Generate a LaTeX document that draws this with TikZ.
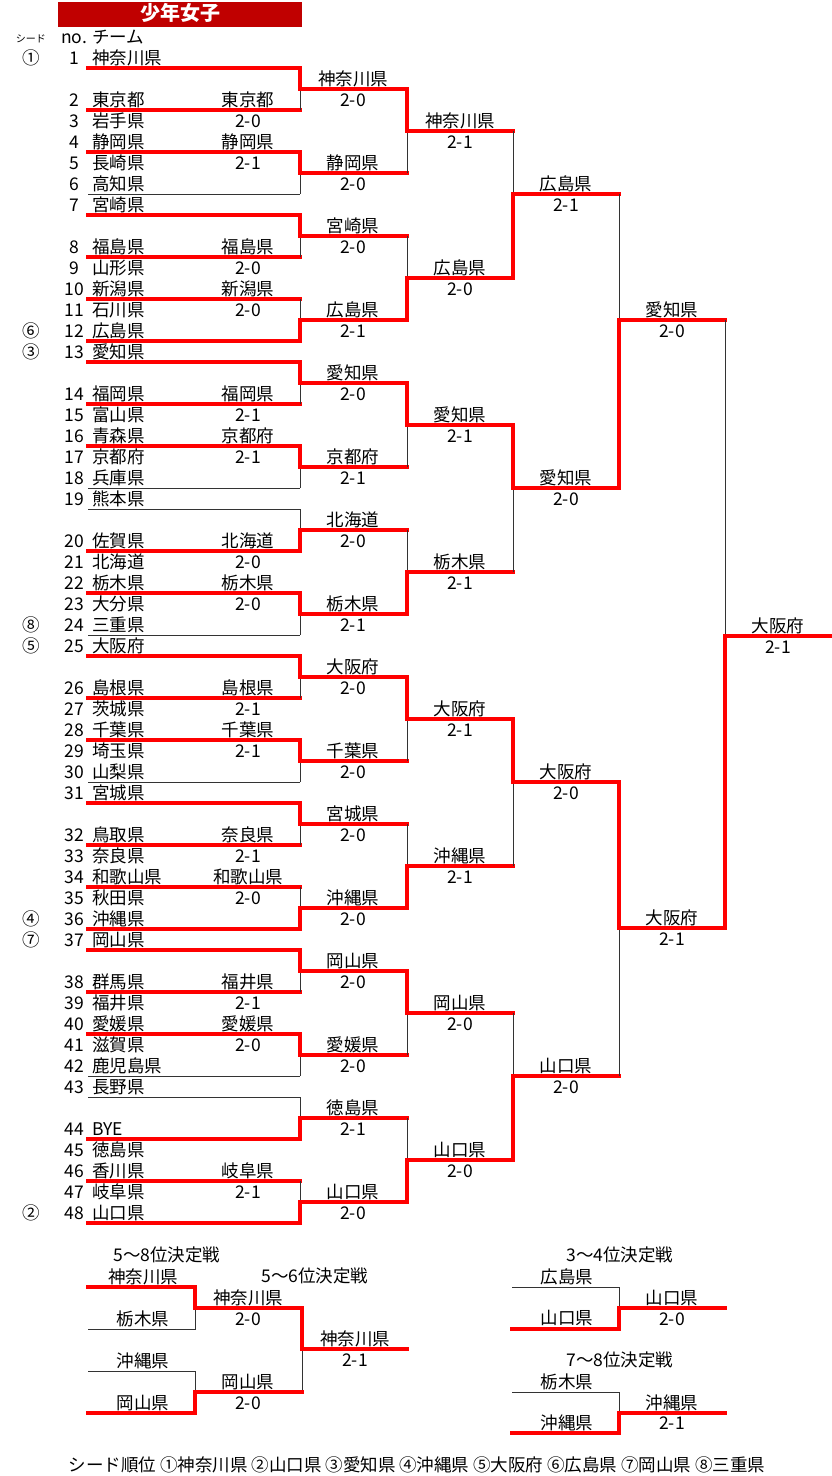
\documentclass[tikz,border=0pt]{standalone}
\usepackage{fontspec}
\setmainfont{Noto Sans CJK JP}
\definecolor{titlered}{RGB}{192,0,0}

\begin{document}
\begin{tikzpicture}[x=1pt, y=-1pt,
    every node/.style={inner sep=0pt, font=\fontsize{17.5}{17.5}\selectfont,
                       text height=1.2em, text depth=0em},
    team/.style={anchor=west},
    small/.style={font=\fontsize{10}{10}\selectfont},
    won/.style={draw=red, line width=4pt, line cap=rect},
    lost/.style={draw=black!80, line width=1pt},
    s0/.style={won}, s1/.style={lost},
    e0/.style={lost}, e1/.style={won}]
  \useasboundingbox (0,0) rectangle (831,1476);

  % heading
  \node[fill=titlered, text=white, minimum width=244pt, minimum height=25pt,
        font=\fontsize{20}{20}\selectfont\bfseries] (title) at (180,14.5) {少年女子};
  \node[small] (hseed) at (31,36) {シード};
  \node (hno) at (74,37) {no.};
  \node[team] (hteam) at (92,37) {チーム};

  % teams
  \foreach \n/\tm in {1/神奈川県, 2/東京都, 3/岩手県, 4/静岡県, 5/長崎県, 6/高知県,
      7/宮崎県, 8/福島県, 9/山形県, 10/新潟県, 11/石川県, 12/広島県,
      13/愛知県, 14/福岡県, 15/富山県, 16/青森県, 17/京都府, 18/兵庫県,
      19/熊本県, 20/佐賀県, 21/北海道, 22/栃木県, 23/大分県, 24/三重県,
      25/大阪府, 26/島根県, 27/茨城県, 28/千葉県, 29/埼玉県, 30/山梨県,
      31/宮城県, 32/鳥取県, 33/奈良県, 34/和歌山県, 35/秋田県, 36/沖縄県,
      37/岡山県, 38/群馬県, 39/福井県, 40/愛媛県, 41/滋賀県, 42/鹿児島県,
      43/長野県, 44/BYE, 45/徳島県, 46/香川県, 47/岐阜県, 48/山口県} {
    \pgfmathtruncatemacro\k{mod(\n-1,6)}
    \pgfmathsetmacro\yy{58+147*div(\n-1,6)+21*(\k+(\k>0))}
    \node (n\n) at (74,\yy) {\n};
    \node[team] (t\n) at (92,\yy) {\tm};
  }
  \foreach \n/\sd in {1/①, 12/⑥, 13/③, 24/⑧, 25/⑤, 36/④, 37/⑦, 48/②}
    \node (sd\n) at (31,0 |- n\n) {\sd};

  % blocks of six: rounds 1 to 3
  \foreach \g/\la/\ra/\lb/\rb/\wa/\xa/\ka/\wb/\xb/\kb/\wc/\xc/\kc in {
      0/東京都/2-0/静岡県/2-1/神奈川県/2-0/0/静岡県/2-0/0/神奈川県/2-1/0,
      1/福島県/2-0/新潟県/2-0/宮崎県/2-0/0/広島県/2-1/1/広島県/2-0/1,
      2/福岡県/2-1/京都府/2-1/愛知県/2-0/0/京都府/2-1/0/愛知県/2-1/0,
      3/北海道/2-0/栃木県/2-0/北海道/2-0/1/栃木県/2-1/0/栃木県/2-1/1,
      4/島根県/2-1/千葉県/2-1/大阪府/2-0/0/千葉県/2-0/0/大阪府/2-1/0,
      5/奈良県/2-1/和歌山県/2-0/宮城県/2-0/0/沖縄県/2-0/1/沖縄県/2-1/1,
      6/福井県/2-1/愛媛県/2-0/岡山県/2-0/0/愛媛県/2-0/0/岡山県/2-0/0,
      7/{}/{}/岐阜県/2-1/徳島県/2-1/1/山口県/2-0/1/山口県/2-0/1} {
    \pgfmathsetmacro\yo{58+147*\g}
    \draw[s\ka] (88,\yo+10) -- (300,\yo+10);
    \draw[won] (88,\yo+52) -- (300,\yo+52);
    \draw[won] (88,\yo+94) -- (300,\yo+94);
    \draw[e\kb] (88,\yo+136) -- (300,\yo+136);
    \node (a\g) at (248,\yo+42) {\la};
    \node at (248,\yo+63) {\ra};
    \node (b\g) at (248,\yo+84) {\lb};
    \node at (248,\yo+105) {\rb};
    % round 2
    \draw[lost] (300,\yo+10) -- (300,\yo+52);
    \draw[lost] (300,\yo+94) -- (300,\yo+136);
    \draw[won] (300,\yo+10+42*\ka) -- (300,\yo+31) -- (407,\yo+31);
    \draw[won] (300,\yo+94+42*\kb) -- (300,\yo+115) -- (407,\yo+115);
    \node (c\g) at (353,\yo+21) {\wa};
    \node at (353,\yo+42) {\xa};
    \node (d\g) at (353,\yo+105) {\wb};
    \node at (353,\yo+126) {\xb};
    % round 3
    \draw[lost] (407,\yo+31) -- (407,\yo+115);
    \draw[won] (407,\yo+31+84*\kc) -- (407,\yo+73) -- (513,\yo+73);
    \node (e\g) at (460,\yo+63) {\wc};
    \node at (460,\yo+84) {\xc};
  }

  % round 4
  \foreach \p/\wn/\sr/\kw in {0/広島県/2-1/1, 1/愛知県/2-0/0, 2/大阪府/2-0/0, 3/山口県/2-0/1} {
    \pgfmathsetmacro\yo{58+294*\p}
    \draw[lost] (513,\yo+73) -- (513,\yo+220);
    \draw[won] (513,\yo+73+147*\kw) -- (513,\yo+136) -- (619,\yo+136);
    \node (f\p) at (566,\yo+126) {\wn};
    \node at (566,\yo+147) {\sr};
  }

  % round 5 and final
  \draw[lost] (619,194) -- (619,488);
  \draw[won] (619,488) -- (619,320) -- (725,320);
  \node (g0) at (672,310) {愛知県};
  \node at (672,331) {2-0};
  \draw[lost] (619,782) -- (619,1076);
  \draw[won] (619,782) -- (619,928) -- (725,928);
  \node (g1) at (672,918) {大阪府};
  \node at (672,939) {2-1};
  \draw[lost] (725,320) -- (725,928);
  \draw[won] (725,928) -- (725,636) -- (831,636);
  \node (champ) at (778,626) {大阪府};
  \node at (778,647) {2-1};

  % 5th to 8th
  \node (p58) at (167,1255) {5～8位決定戦};
  \node (p56) at (315,1276) {5～6位決定戦};
  \node at (143,1277) {神奈川県};
  \node at (143,1319) {栃木県};
  \node at (143,1361) {沖縄県};
  \node at (143,1403) {岡山県};
  \draw[lost] (88,1329) -- (195,1329) -- (195,1308);
  \draw[lost] (88,1371) -- (195,1371) -- (195,1392);
  \draw[lost] (302,1349) -- (302,1392);
  \draw[won] (88,1287) -- (195,1287) -- (195,1308) -- (302,1308) -- (302,1349) -- (407,1349);
  \draw[won] (88,1413) -- (195,1413) -- (195,1392) -- (302,1392);
  \node at (248,1298) {神奈川県};
  \node at (248,1319) {2-0};
  \node at (248,1382) {岡山県};
  \node at (248,1403) {2-0};
  \node at (355,1339) {神奈川県};
  \node at (355,1360) {2-1};

  % 3rd/4th and 7th/8th
  \node (p34) at (620,1255) {3～4位決定戦};
  \node at (567,1277) {広島県};
  \node at (567,1318) {山口県};
  \draw[lost] (512,1287) -- (619,1287) -- (619,1308);
  \draw[won] (512,1329) -- (619,1329) -- (619,1308) -- (725,1308);
  \node at (672,1298) {山口県};
  \node at (672,1319) {2-0};
  \node (p78) at (620,1360) {7～8位決定戦};
  \node at (567,1382) {栃木県};
  \node at (567,1423) {沖縄県};
  \draw[lost] (512,1392) -- (619,1392) -- (619,1413);
  \draw[won] (512,1433) -- (619,1433) -- (619,1413) -- (725,1413);
  \node at (672,1403) {沖縄県};
  \node at (672,1423) {2-1};

  \node (seeds) at (417,1465) {シード順位 ①神奈川県 ②山口県 ③愛知県 ④沖縄県 ⑤大阪府 ⑥広島県 ⑦岡山県 ⑧三重県};
\end{tikzpicture}
\end{document}
